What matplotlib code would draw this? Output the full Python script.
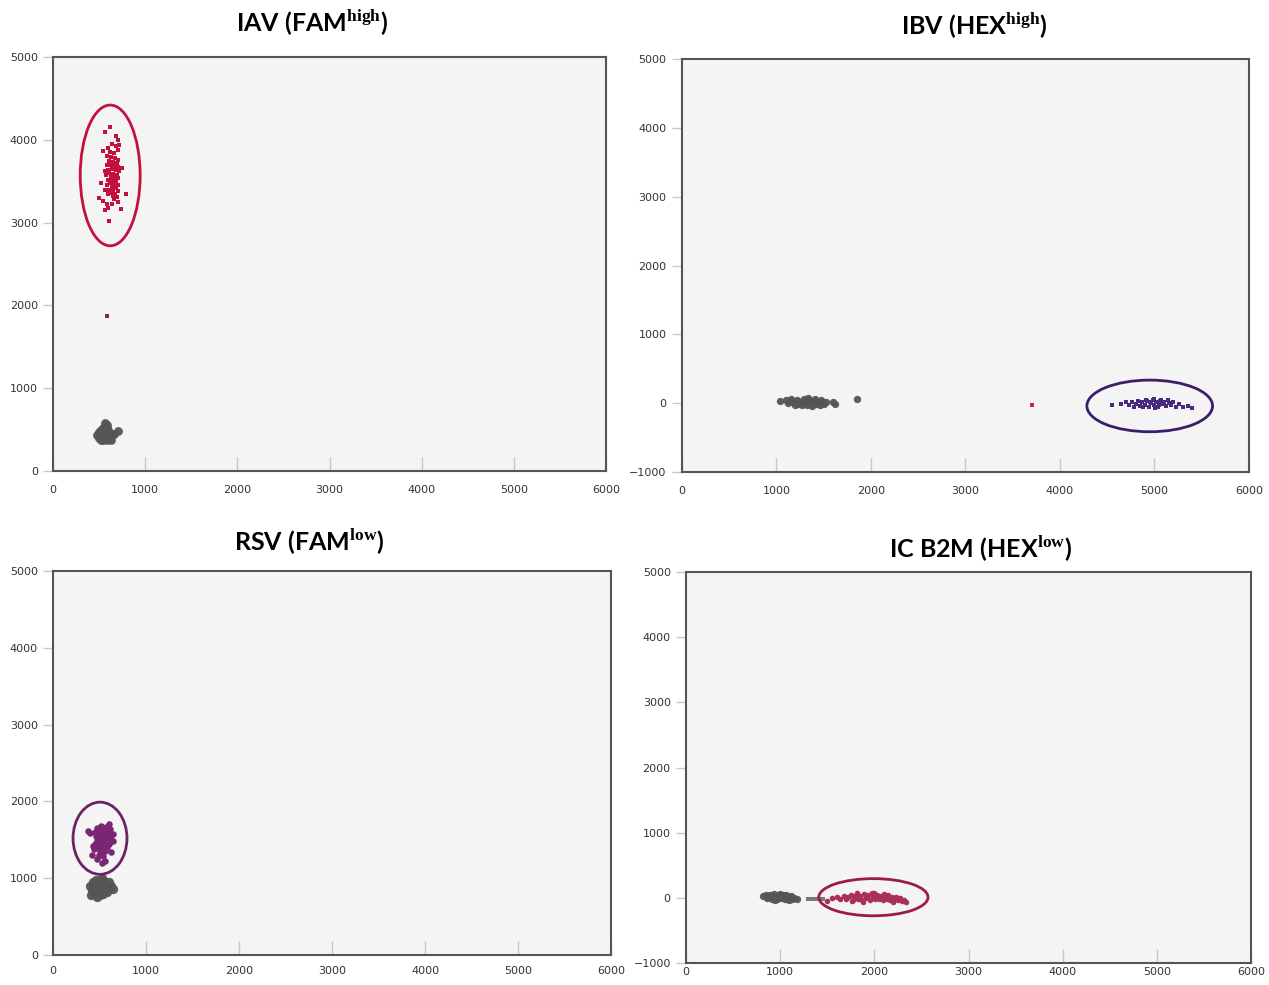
import matplotlib.pyplot as plt
from matplotlib.patches import Ellipse

plt.rcParams['mathtext.fontset'] = 'custom'
plt.rcParams['mathtext.bf'] = 'Liberation Serif:bold'
plt.rcParams['mathtext.rm'] = 'Liberation Serif'

# ---- panel 1: IAV (FAM high) ----
iav_pos_x = [600, 640, 680, 700, 620, 660, 590, 630, 670, 710, 610, 650, 690, 580, 620, 660, 700, 640,
             600, 680, 720, 610, 650, 690, 570, 630, 670, 710, 600, 640, 680, 620, 660, 700, 590, 640,
             680, 610, 650, 700, 630, 670, 600, 650, 690,
             560, 620, 680, 700, 540, 720, 560, 520, 750, 560, 500, 540, 580, 560, 640, 700, 790, 740,
             610, 600, 660]
iav_pos_y = [3900, 3950, 3920, 3880, 3850, 3840, 3800, 3790, 3780, 3760, 3740, 3730, 3720, 3700, 3690,
             3680, 3670, 3650, 3640, 3630, 3620, 3600, 3590, 3580, 3570, 3560, 3550, 3540, 3520, 3510,
             3500, 3480, 3470, 3460, 3450, 3440, 3420, 3400, 3390, 3380, 3360, 3350, 3340, 3320, 3310,
             4100, 4150, 4050, 4000, 3860, 3940, 3620, 3480, 3660, 3400, 3300, 3260, 3220, 3150, 3230,
             3250, 3340, 3160, 3020, 3180, 3280]
iav_mid_x = [590]
iav_mid_y = [1870]
iav_neg_x = [480, 500, 500, 520, 520, 520, 540, 540, 540, 540, 560, 560, 560, 560, 580, 580, 580, 580,
             600, 600, 600, 620, 620, 640, 660, 700, 560, 510, 590, 630]
iav_neg_y = [440, 400, 470, 380, 430, 500, 370, 420, 470, 520, 390, 440, 490, 540, 380, 430, 480, 520,
             400, 450, 500, 410, 460, 430, 450, 480, 580, 450, 560, 380]

# ---- panel 2: IBV (HEX high) ----
ibv_neg_x = [1040, 1100, 1120, 1150, 1180, 1200, 1220, 1250, 1270, 1290, 1300, 1320, 1340, 1360, 1380,
             1400, 1420, 1440, 1460, 1480, 1500, 1230, 1160, 1330, 1410, 1470, 1520, 1600, 1620, 1850]
ibv_neg_y = [30, 40, 0, 60, 20, -20, 50, 10, -30, 60, 20, -20, 40, 0, -40, 30, -10, 20, -30, 10, -10,
             -10, 30, 70, 60, 40, 20, 10, -10, 60]
ibv_odd_x = [3700]
ibv_odd_y = [-20]
ibv_pos_x = [4550, 4650, 4700, 4730, 4760, 4800, 4830, 4850, 4870, 4900, 4920, 4940, 4960, 4980, 5000,
             5020, 5040, 5060, 5080, 5100, 5120, 5150, 5180, 5200, 5230, 5260, 5300, 5350, 5400, 4880,
             4990, 5070, 4780, 5140, 4910, 5010, 4950, 5050]
ibv_pos_y = [-20, -10, 10, -30, 20, -10, 30, -40, 10, -20, 30, -50, 0, 40, -30, 10, -60, 30, -10, 20,
             -40, 0, -30, 20, -50, -10, -60, -40, -70, -60, 60, 50, -50, 40, 50, -70, 20, -20]

# ---- panel 3: RSV (FAM low) ----
rsv_pos_x = [470, 520, 570, 610, 450, 500, 550, 600, 640, 460, 510, 560, 610, 470, 520, 570, 620, 450,
             500, 550, 600, 480, 530, 580, 510, 560, 490, 540,
             380, 400, 430, 420, 470, 530, 560, 620, 650, 600, 440]
rsv_pos_y = [1650, 1680, 1660, 1640, 1600, 1610, 1620, 1600, 1580, 1550, 1560, 1570, 1550, 1500, 1510,
             1520, 1500, 1450, 1460, 1470, 1450, 1400, 1410, 1400, 1350, 1360, 1300, 1290,
             1620, 1590, 1420, 1300, 1250, 1200, 1220, 1340, 1480, 1700, 1380]
rsv_neg_x = [400, 420, 430, 450, 450, 460, 480, 480, 500, 500, 500, 520, 520, 540, 540, 540, 560, 560,
             580, 580, 600, 600, 620, 410, 470, 640, 530]
rsv_neg_y = [900, 850, 950, 800, 880, 970, 830, 920, 780, 870, 960, 840, 920, 800, 880, 980, 850, 930,
             820, 900, 870, 950, 900, 780, 760, 860, 1000]

# ---- panel 4: IC B2M (HEX low) ----
b2m_neg_x = [820, 850, 860, 890, 910, 930, 950, 970, 990, 1010, 1030, 1050, 1070, 1090, 1110, 1130,
             1150, 1180, 880, 940, 1000, 1060, 1120]
b2m_neg_y = [30, 50, 0, 40, -10, 60, 20, -20, 40, 0, 50, -20, 20, -30, 10, -20, 0, -10, 10, -30, 60,
             40, 30]
b2m_mid_x = [1300, 1340, 1380, 1420, 1460]
b2m_mid_y = [-10, -10, -10, -10, -10]
b2m_pos_x = [1500, 1550, 1600, 1640, 1680, 1700, 1720, 1750, 1770, 1790, 1810, 1830, 1850, 1870, 1890,
             1910, 1930, 1950, 1970, 1990, 2010, 2030, 2050, 2070, 2090, 2110, 2130, 2150, 2170, 2190,
             2210, 2230, 2250, 2270, 2290, 2320, 2340, 1760, 1880, 2000, 2100, 2200, 1820]
b2m_pos_y = [-50, 0, 20, -10, 30, -20, 10, 40, -30, 20, 50, -10, 30, -40, 60, 0, 40, -30, 70, 10, -20,
             50, -10, 30, -40, 20, -20, 40, -30, 10, -40, 20, -30, 0, -50, -30, -60, -50, -60, 80, 60,
             -60, 70]

xticks = [0, 1000, 2000, 3000, 4000, 5000, 6000]

fig = plt.figure(figsize=(12.69, 9.85), dpi=100)


def style(ax, ylim, yticks, xpad=10):
    ax.set_facecolor('#f4f4f4')
    ax.set_xlim(0, 6000)
    ax.set_ylim(*ylim)
    ax.set_xticks(xticks)
    ax.set_yticks(yticks)
    for s in ax.spines.values():
        s.set_color('#555555')
        s.set_linewidth(1.5)
    ax.tick_params(axis='x', direction='in', length=10, width=1, color='#c8c8c8',
                   pad=xpad, labelsize=8, labelcolor='#333333')
    ax.tick_params(axis='y', direction='out', length=7, width=1, color='#c8c8c8',
                   pad=4, labelsize=8, labelcolor='#333333')


gray = '#555555'

# panel 1
ax1 = fig.add_axes([0.0418, 0.5218, 0.4358, 0.4203])
style(ax1, (0, 5000), [0, 1000, 2000, 3000, 4000, 5000])
ax1.scatter(iav_neg_x, iav_neg_y, s=40, color=gray, alpha=0.95, linewidths=0)
ax1.scatter(iav_pos_x, iav_pos_y, s=10, marker='s', color='#c4103c', linewidths=0)
ax1.scatter(iav_mid_x, iav_mid_y, s=6, marker='s', color='#7a2a6a', linewidths=0)
ax1.add_patch(Ellipse((620, 3570), 650, 1700, fill=False, ec='#c4103c', lw=2))

# panel 2
ax2 = fig.add_axes([0.5374, 0.5208, 0.4468, 0.4193])
style(ax2, (-1000, 5000), [-1000, 0, 1000, 2000, 3000, 4000, 5000])
ax2.scatter(ibv_neg_x, ibv_neg_y, s=28, color=gray, alpha=0.95, linewidths=0)
ax2.scatter(ibv_odd_x, ibv_odd_y, s=6, marker='s', color='#d0204c', linewidths=0)
ax2.scatter(ibv_pos_x, ibv_pos_y, s=10, marker='s', color='#4a2a7c', linewidths=0)
ax2.add_patch(Ellipse((4950, -40), 1330, 750, fill=False, ec='#3a1e6a', lw=2))

# panel 3
ax3 = fig.add_axes([0.0418, 0.0305, 0.4397, 0.3898])
style(ax3, (0, 5000), [0, 1000, 2000, 3000, 4000, 5000], xpad=8)
ax3.scatter(rsv_neg_x, rsv_neg_y, s=45, color=gray, alpha=0.95, linewidths=0)
ax3.scatter(rsv_pos_x, rsv_pos_y, s=22, color='#7a2672', linewidths=0)
ax3.add_patch(Ellipse((505, 1520), 580, 940, fill=False, ec='#6e2266', lw=2))

# panel 4
ax4 = fig.add_axes([0.5406, 0.0223, 0.4452, 0.397])
style(ax4, (-1000, 5000), [-1000, 0, 1000, 2000, 3000, 4000, 5000], xpad=3)
ax4.scatter(b2m_neg_x, b2m_neg_y, s=28, color=gray, alpha=0.95, linewidths=0)
ax4.scatter(b2m_mid_x, b2m_mid_y, s=6, marker='s', color='#777777', linewidths=0)
ax4.scatter(b2m_pos_x, b2m_pos_y, s=16, color='#a8305a', linewidths=0)
ax4.add_patch(Ellipse((1990, 10), 1160, 570, fill=False, ec='#9c1c44', lw=2))

title_kw = dict(ha='center', va='center', fontsize=18, fontweight='bold', family='Lato')
fig.text(0.246, 0.977, r'IAV (FAM$^{\mathbf{high}}$)', **title_kw)
fig.text(0.768, 0.974, r'IBV (HEX$^{\mathbf{high}}$)', **title_kw)
fig.text(0.244, 0.450, r'RSV (FAM$^{\mathbf{low}}$)', **title_kw)
fig.text(0.773, 0.443, r'IC B2M (HEX$^{\mathbf{low}}$)', **title_kw)

fig.savefig('out.png', dpi=100)
